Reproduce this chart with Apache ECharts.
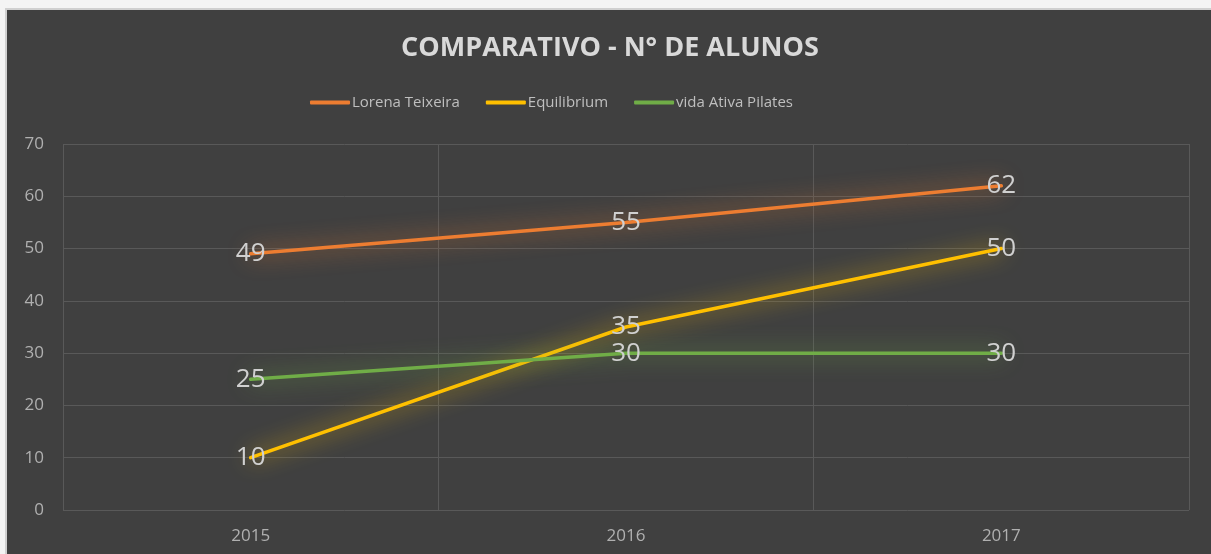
<!DOCTYPE html>
<html>
<head>
<meta charset="utf-8">
<script src="https://cdn.jsdelivr.net/npm/echarts@6/dist/echarts.min.js"></script>
<style>
html, body { margin: 0; padding: 0; background: #f4f4f4; }
.frame {
    position: absolute; left: 5px; top: 8px; width: 1206px; height: 546px;
    border-left: 2px solid #d0d0d0; border-top: 2px solid #d0d0d0;
    background: #404040;
}
#chart { width: 1206px; height: 546px; }
</style>
</head>
<body>
<div class="frame"><div id="chart"></div></div>
<script>
// valores
var anos = ['2015', '2016', '2017'];
var lorena = [49, 55, 62];
var equilibrium = [10, 35, 50];
var vidaAtiva = [25, 30, 30];
var nomes = ['Lorena Teixeira', 'Equilibrium', 'vida Ativa Pilates'];
var cores = ['#ED7D31', '#FFC000', '#70AD47'];

var fonte = '"Open Sans", "Noto Sans", sans-serif';

function serie(nome, dados, cor) {
    return {
        name: nome,
        type: 'line',
        data: dados,
        symbol: 'circle',
        symbolSize: 1,
        showSymbol: true,
        lineStyle: {
            width: 3.5,
            color: cor,
            cap: 'round',
            shadowColor: cor,
            shadowBlur: 22
        },
        itemStyle: { color: cor },
        label: {
            show: true,
            position: 'inside',
            color: '#d0d0d0',
            fontSize: 26,
            fontFamily: fonte
        },
        emphasis: { disabled: true }
    };
}

var myChart = echarts.init(document.getElementById('chart'));
myChart.setOption({
    backgroundColor: '#404040',
    animation: false,
    color: cores,
    title: {
        text: 'COMPARATIVO - N° DE ALUNOS',
        left: 'center',
        top: 20,
        textStyle: {
            color: '#d9d9d9',
            fontSize: 27,
            fontWeight: 'bold',
            fontFamily: fonte
        }
    },
    legend: {
        data: nomes,
        top: 80,
        left: 298,
        icon: 'roundRect',
        itemWidth: 40,
        itemHeight: 4,
        itemGap: 26,
        textStyle: {
            color: '#bfbfbf',
            fontSize: 15,
            fontFamily: fonte,
            padding: [0, 0, 0, -3]
        }
    },
    grid: {
        left: 56,
        right: 24,
        top: 134,
        bottom: 46,
        containLabel: false
    },
    xAxis: {
        type: 'category',
        data: anos,
        boundaryGap: true,
        axisLine: { show: false },
        axisTick: { show: false },
        axisLabel: { color: '#b0b0b0', fontSize: 17, fontFamily: fonte, margin: 18 },
        splitLine: { show: true, lineStyle: { color: '#595959', width: 1 } }
    },
    yAxis: {
        type: 'value',
        min: 0,
        max: 70,
        interval: 10,
        axisLine: { show: false },
        axisTick: { show: false },
        axisLabel: { color: '#b0b0b0', fontSize: 17, fontFamily: fonte, margin: 19 },
        splitLine: { lineStyle: { color: '#595959', width: 1 } }
    },
    series: [
        serie(nomes[0], lorena, cores[0]),
        serie(nomes[1], equilibrium, cores[1]),
        serie(nomes[2], vidaAtiva, cores[2])
    ]
});
</script>
</body>
</html>
